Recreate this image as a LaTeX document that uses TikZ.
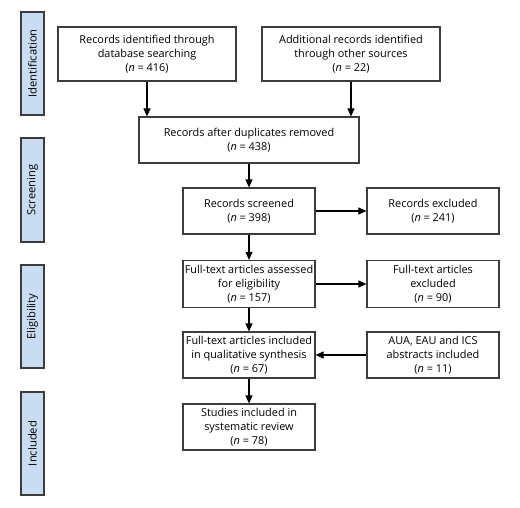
\documentclass[tikz,border=0pt]{standalone}
\usepackage{fontspec}
\setmainfont{Open Sans}
\usetikzlibrary{arrows.meta}
\definecolor{boxline}{HTML}{3C3C3C}
\definecolor{sidefill}{HTML}{C9DCF1}
\tikzset{
  flowbox/.style={draw=boxline, line width=1.2pt, fill=white, rectangle, align=center,
    font=\fontsize{10.9}{14}\selectfont, inner sep=0pt},
  sidebox/.style={draw=boxline, line width=1.2pt, fill=sidefill, rectangle, align=center,
    minimum width=23pt, inner sep=0pt},
  sidetext/.style={rotate=90, font=\fontsize{11.2}{13}\selectfont, inner sep=0pt},
  flowarrow/.style={draw=black, line width=1.1pt, -{Triangle[length=8pt,width=7pt]}}
}
\begin{document}
\begin{tikzpicture}[x=1pt,y=-1pt]
\useasboundingbox (0,0) rectangle (520,507);
% side labels
\node[sidebox, minimum height=103pt] (sid) at (32.5,63.5) {};
\node[sidetext] (sidt) at (sid.center) {Identification};
\node[sidebox, minimum height=104pt] (sscr) at (32.5,190) {};
\node[sidetext] (sscrt) at (sscr.center) {Screening};
\node[sidebox, minimum height=103pt] (selig) at (32.5,316.5) {};
\node[sidetext] (seligt) at (selig.center) {Eligibility};
\node[sidebox, minimum height=103pt] (sinc) at (32.5,443.5) {};
\node[sidetext] (sinct) at (sinc.center) {Included};
% flow boxes
\node[flowbox, minimum width=178pt, minimum height=54pt] (db) at (147,54)
  {Records identified through\\database searching\\(\textit{n} = 416)};
\node[flowbox, minimum width=178pt, minimum height=54pt] (other) at (351,54)
  {Additional records identified\\through other sources\\(\textit{n} = 22)};
\node[flowbox, minimum width=220pt, minimum height=46pt] (dup) at (249,140)
  {Records after duplicates removed\\(\textit{n} = 438)};
\node[flowbox, minimum width=132pt, minimum height=46pt] (scr) at (249,211)
  {Records screened\\(\textit{n} = 398)};
\node[flowbox, minimum width=132pt, minimum height=46pt] (exc) at (433,211)
  {Records excluded\\(\textit{n} = 241)};
\node[flowbox, minimum width=132pt, minimum height=47pt] (ft) at (249,284)
  {Full-text articles assessed\\for eligibility\\(\textit{n} = 157)};
\node[flowbox, minimum width=132pt, minimum height=47pt] (ftx) at (433,284)
  {Full-text articles\\excluded\\(\textit{n} = 90)};
\node[flowbox, minimum width=132pt, minimum height=46pt] (qual) at (249,355)
  {Full-text articles included\\in qualitative synthesis\\(\textit{n} = 67)};
\node[flowbox, minimum width=132pt, minimum height=46pt] (aua) at (433,355)
  {AUA, EAU and ICS\\abstracts included\\(\textit{n} = 11)};
\node[flowbox, minimum width=132pt, minimum height=46pt] (stud) at (249,427)
  {Studies included in\\systematic review\\(\textit{n} = 78)};
% arrows
\draw[flowarrow] (db.south) -- (db.south |- dup.north);
\draw[flowarrow] (other.south) -- (other.south |- dup.north);
\draw[flowarrow] (dup.south) -- (scr.north);
\draw[flowarrow] (scr.east) -- (exc.west);
\draw[flowarrow] (scr.south) -- (ft.north);
\draw[flowarrow] (ft.east) -- (ftx.west);
\draw[flowarrow] (ft.south) -- (qual.north);
\draw[flowarrow] (aua.west) -- (qual.east);
\draw[flowarrow] (qual.south) -- (stud.north);
\end{tikzpicture}
\end{document}
